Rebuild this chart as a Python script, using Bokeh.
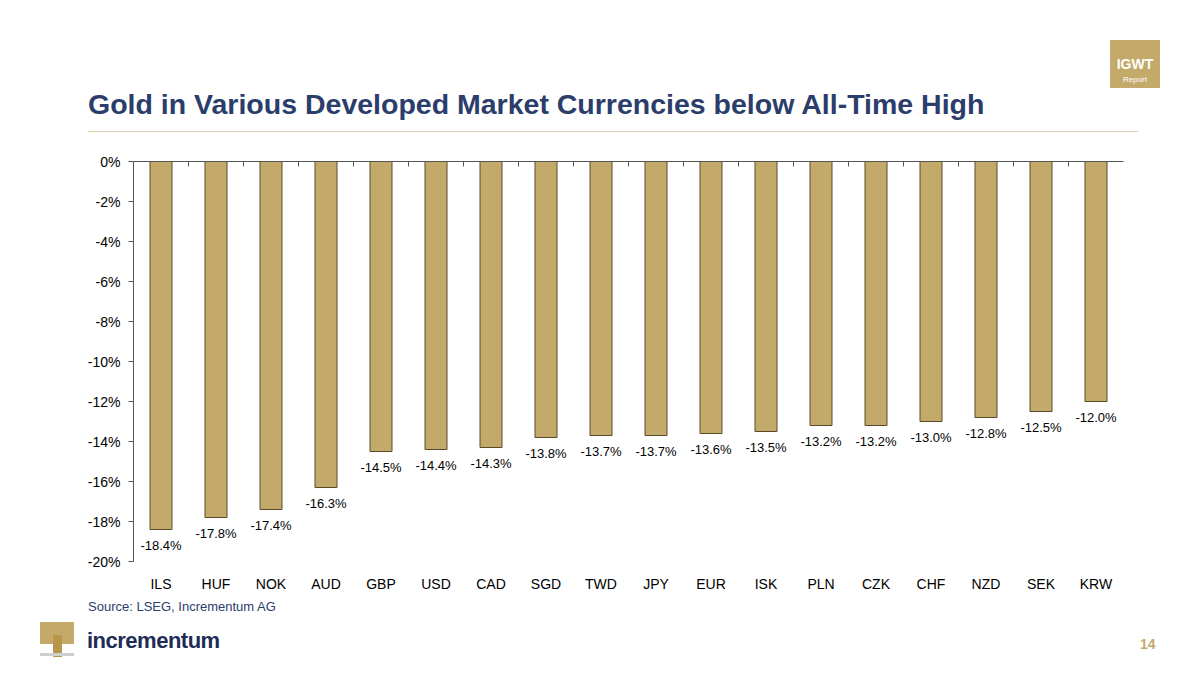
from bokeh.plotting import figure
from bokeh.layouts import column
from bokeh.models import Range1d, FixedTicker, LinearAxis, ColumnDataSource, Div
from bokeh.core.properties import value
from bokeh.embed import file_html
from bokeh.resources import INLINE

currencies = ["ILS","HUF","NOK","AUD","GBP","USD","CAD","SGD","TWD","JPY","EUR","ISK","PLN","CZK","CHF","NZD","SEK","KRW"]
values = [-18.4,-17.8,-17.4,-16.3,-14.5,-14.4,-14.3,-13.8,-13.7,-13.7,-13.6,-13.5,-13.2,-13.2,-13.0,-12.8,-12.5,-12.0]
y_ticks = list(range(-20, 1, 2))

W = 1184
GOLD = "#c4aa6a"
NAVY = "#2b3d6b"
FONT = "Liberation Sans"
FF = "'Liberation Sans', Arial, sans-serif"

def ab(x, y, inner, style=""):
    return f'<div style="position:absolute;left:{x}px;top:{y}px;white-space:nowrap;font-family:{FF};{style}">{inner}</div>'

hd_html = (f'<div style="position:relative;width:{W}px;height:153px">'
           + ab(88, 84, "Gold in Various Developed Market Currencies below All-Time High",
                f"font-size:28.5px;font-weight:bold;color:{NAVY}")
           + f'<div style="position:absolute;left:88px;top:131px;width:1050px;height:1px;background:#dcd2ad"></div>'
           + f'<div style="position:absolute;left:1110px;top:40px;width:50px;height:48px;background:{GOLD}"></div>'
           + ab(1110, 54, '<div style="width:50px;text-align:center">IGWT</div>',
                "font-size:14px;font-weight:bold;color:white")
           + ab(1110, 74, '<div style="width:50px;text-align:center">Report</div>',
                "font-size:8px;color:white")
           + '</div>')
hd = Div(text=hd_html, width=W, height=153, margin=(0, 0, 0, 0))

n = len(currencies)
xs = [i + 0.5 for i in range(n)]
src = ColumnDataSource(dict(x=xs, top=[0]*n, bottom=values, lab=[f"{v:.1f}%" for v in values]))
p = figure(width=W, height=442, x_range=Range1d(0, n), y_range=Range1d(-20, 0),
           output_backend="svg", toolbar_location=None,
           min_border_left=133, min_border_right=61, min_border_top=8, min_border_bottom=34)
p.outline_line_color = None
p.grid.visible = False
p.vbar(x="x", top="top", bottom="bottom", width=0.4, source=src,
       fill_color=GOLD, line_color="#5a4a2a", line_width=1)
p.text(x="x", y="bottom", text="lab", source=src, text_font=value(FONT), text_font_size="13px",
       text_color="black", text_align="center", text_baseline="top", y_offset=8)

p.xaxis.ticker = FixedTicker(ticks=xs)
p.xaxis.major_label_overrides = {x: c for x, c in zip(xs, currencies)}
p.xaxis.axis_line_color = None
p.xaxis.major_tick_line_color = None
p.xaxis.minor_tick_line_color = None
p.xaxis.major_label_text_font = FONT
p.xaxis.major_label_text_font_size = "14px"
p.xaxis.major_label_text_color = "black"
p.xaxis.major_label_standoff = 8

p.yaxis.ticker = FixedTicker(ticks=y_ticks)
p.yaxis.major_label_overrides = {t: f"{t}%" for t in y_ticks}
p.yaxis.minor_tick_line_color = None
p.yaxis.major_tick_out = 5
p.yaxis.major_tick_in = 0
p.yaxis.axis_line_color = "#555555"
p.yaxis.major_tick_line_color = "#555555"
p.yaxis.major_label_text_font = FONT
p.yaxis.major_label_text_font_size = "14px"
p.yaxis.major_label_text_color = "black"
p.yaxis.major_label_standoff = 8

top_ticks = list(range(1, n))
top_ax = LinearAxis(ticker=FixedTicker(ticks=top_ticks),
                    major_label_overrides={t: "" for t in top_ticks},
                    major_tick_in=5, major_tick_out=0, axis_line_color="#555555",
                    major_tick_line_color="#555555", minor_tick_line_color=None)
p.add_layout(top_ax, "above")

ft_html = (f'<div style="position:relative;width:{W}px;height:72px">'
           + ab(88, 3, "Source: LSEG, Incrementum AG", f"font-size:13px;color:{NAVY}")
           + f'<div style="position:absolute;left:40px;top:27px;width:34px;height:22px;background:{GOLD}"></div>'
           + f'<div style="position:absolute;left:53px;top:40px;width:9px;height:22px;background:#b8964a"></div>'
           + f'<div style="position:absolute;left:40px;top:58px;width:34px;height:3px;background:#cfcfcf"></div>'
           + ab(87, 30, "incrementum", "font-size:22px;font-weight:bold;color:#202c55;letter-spacing:-0.5px")
           + ab(1140, 39, "14", f"font-size:14px;font-weight:bold;color:{GOLD}")
           + '</div>')
ft = Div(text=ft_html, width=W, height=72, margin=(0, 0, 0, 0))

page = column(hd, p, ft, spacing=0)
open("out.html", "w").write(file_html(page, INLINE))
